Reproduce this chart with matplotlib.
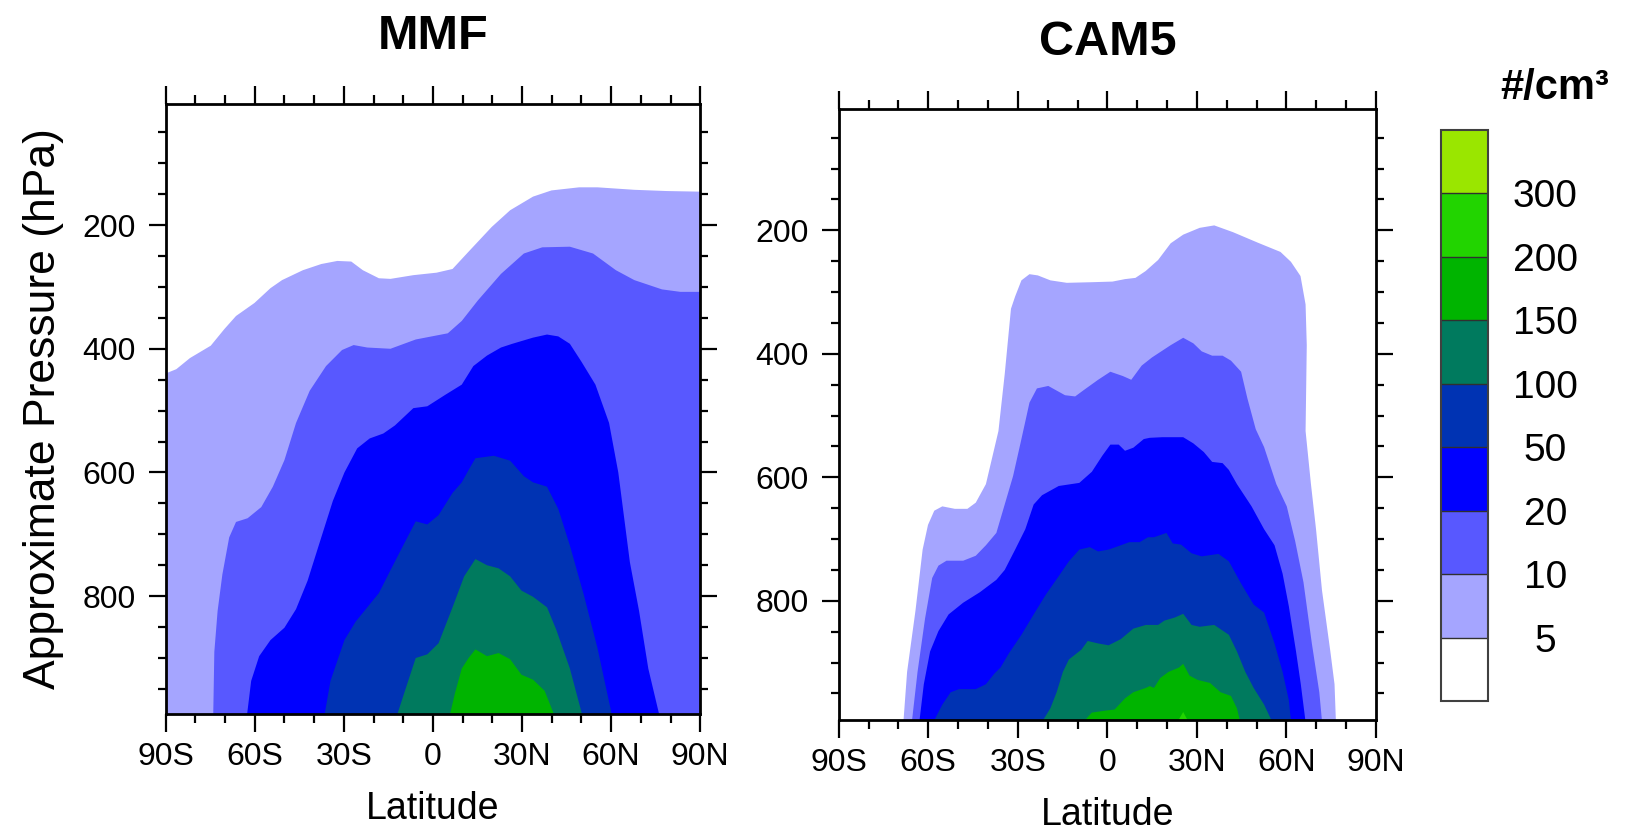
import matplotlib
matplotlib.use('Agg')
import matplotlib.pyplot as plt
import numpy as np
from matplotlib.colors import ListedColormap, BoundaryNorm
from matplotlib.cm import ScalarMappable

# colour levels (#/cm3) and fill colours (first = below 5, last = above 300)
levels = [5, 10, 20, 50, 100, 150, 200, 300]
colors = ['#ffffff', '#a5a5ff', '#5858ff', '#0000ff', '#0033b3',
          '#007a5e', '#00b400', '#22d400', '#9ae600']
lat_ticks = [-90, -60, -30, 0, 30, 60, 90]
lat_labels = ['90S', '60S', '30S', '0', '30N', '60N', '90N']
p_ticks = [200, 400, 600, 800]

# MMF: upper edge (lat, hPa) of the area above each level
mmf_5 = [(-90, 440), (-86.4, 433), (-81.8, 415), (-74.8, 395), (-70.2, 368), (-66.3, 347),
         (-60.1, 326), (-54.7, 302), (-50.8, 289), (-43.8, 273), (-37.6, 263), (-32.2, 258),
         (-27.5, 259), (-23.6, 273), (-18.2, 286), (-14.3, 287), (-6.6, 281), (1.2, 277),
         (6.6, 271), (12.0, 243), (19.8, 203), (26.0, 176), (33.7, 154), (39.9, 144),
         (49.2, 139), (55.4, 139), (67.8, 143), (78.7, 145), (90, 146)]
mmf_10 = [(-74.0, 1000), (-73.6, 890), (-72.5, 824), (-70.9, 765), (-68.6, 705), (-66.3, 680),
          (-62.4, 674), (-57.8, 656), (-53.9, 623), (-50.0, 580), (-46.1, 520), (-41.5, 468),
          (-36.0, 428), (-30.6, 402), (-26.7, 394), (-22.1, 398), (-14.3, 400), (-5.8, 385),
          (5.0, 375), (9.7, 355), (15.1, 322), (22.9, 279), (30.6, 246), (36.8, 236),
          (46.1, 235), (53.9, 246), (61.6, 273), (67.8, 289), (77.1, 304), (83.3, 308), (90, 308)]
mmf_20 = [(-62.8, 1000), (-61.2, 937), (-58.5, 897), (-54.7, 871), (-50.0, 851), (-46.1, 821),
          (-42.2, 775), (-37.6, 705), (-33.7, 646), (-29.8, 600), (-25.5, 561), (-21.3, 545),
          (-16.7, 537), (-12.8, 524), (-6.6, 496), (-1.9, 493), (4.3, 474), (9.7, 458),
          (13.6, 428), (18.2, 411), (22.9, 398), (26.7, 392), (33.7, 382), (38.4, 377),
          (42.2, 380), (46.1, 392), (50.0, 421), (54.7, 458), (59.3, 520), (62.4, 600),
          (66.3, 745), (69.4, 824), (72.5, 917), (76.6, 1000)]
mmf_50 = [(-36.8, 1000), (-34.5, 937), (-29.8, 871), (-26.0, 841), (-22.1, 818), (-18.2, 795),
          (-14.3, 758), (-9.7, 715), (-5.8, 679), (-1.9, 684), (1.9, 669), (6.6, 633),
          (9.7, 616), (12.0, 596), (14.3, 577), (20.5, 573), (26.0, 581), (30.6, 606),
          (33.7, 616), (38.4, 623), (42.2, 659), (46.1, 718), (50.8, 798), (55.4, 884), (60.6, 1000)]
mmf_100 = [(-12.6, 1000), (-9.7, 957), (-5.8, 900), (-1.9, 894), (1.9, 876), (6.6, 818),
           (10.5, 768), (14.3, 740), (18.2, 750), (22.1, 755), (26.0, 768), (29.8, 791),
           (33.7, 801), (38.4, 818), (41.5, 854), (46.1, 917), (50.7, 1000)]
mmf_150 = [(5.3, 1000), (7.4, 957), (9.7, 917), (12.0, 900), (14.3, 886), (18.2, 897),
           (22.1, 892), (26.0, 902), (29.8, 927), (33.7, 935), (37.6, 953), (41.5, 1000)]

# CAM5
cam5_5 = [(-68.4, 1000), (-67.1, 915), (-64.3, 816), (-61.9, 717), (-60.1, 677), (-58.0, 654),
          (-55.3, 647), (-51.1, 651), (-46.9, 651), (-44.1, 641), (-40.7, 611), (-36.5, 525),
          (-34.4, 433), (-32.3, 327), (-30.9, 307), (-28.8, 281), (-26.1, 271), (-23.3, 273),
          (-19.1, 281), (-13.6, 285), (-5.2, 284), (1.7, 283), (5.9, 279), (9.4, 277),
          (12.8, 266), (17.0, 248), (21.2, 221), (25.4, 207), (30.9, 196), (35.8, 192),
          (42.1, 203), (50.4, 220), (58.0, 235), (61.5, 251), (64.7, 274), (66.4, 320),
          (66.8, 386), (66.4, 525), (68.2, 611), (69.9, 684), (71.9, 783), (74.7, 882),
          (76.1, 935), (76.6, 1000)]
cam5_10 = [(-65.6, 1000), (-63.6, 915), (-61.1, 829), (-58.7, 763), (-56.6, 743), (-53.9, 735),
           (-48.3, 735), (-44.1, 727), (-40.7, 710), (-37.2, 690), (-34.4, 644), (-31.6, 598),
           (-28.8, 538), (-26.1, 479), (-23.6, 456), (-19.8, 452), (-14.2, 467), (-10.8, 469),
           (-8.0, 459), (-3.1, 442), (1.0, 429), (5.2, 436), (8.0, 442), (11.5, 419),
           (14.9, 406), (21.2, 386), (25.4, 374), (28.8, 383), (31.6, 396), (35.1, 403),
           (38.6, 403), (41.4, 411), (44.8, 429), (46.9, 472), (49.7, 522), (52.5, 551),
           (56.6, 611), (60.1, 647), (62.9, 703), (65.7, 770), (68.5, 869), (71.0, 948), (72.0, 1000)]
cam5_20 = [(-63.1, 1000), (-61.5, 935), (-59.4, 882), (-56.6, 849), (-53.2, 822), (-48.3, 803),
           (-42.7, 786), (-37.2, 766), (-34.4, 750), (-30.9, 717), (-27.5, 684), (-24.7, 644),
           (-21.9, 629), (-16.3, 614), (-9.4, 609), (-5.2, 591), (-1.7, 565), (1.0, 547),
           (3.8, 547), (5.9, 557), (8.7, 552), (12.2, 538), (14.2, 536), (18.4, 535),
           (25.4, 535), (28.8, 545), (32.3, 559), (35.1, 575), (38.6, 577), (40.7, 588),
           (43.4, 611), (48.3, 647), (52.5, 684), (56.0, 710), (58.7, 756), (60.8, 809),
           (63.2, 882), (64.8, 935), (66.5, 1000)]
cam5_50 = [(-58.7, 1000), (-55.3, 968), (-52.5, 948), (-49.7, 943), (-44.1, 943), (-40.7, 935),
           (-37.9, 918), (-35.8, 908), (-33.0, 885), (-28.8, 855), (-24.7, 822), (-20.5, 789),
           (-16.3, 760), (-12.9, 736), (-9.4, 717), (-5.9, 713), (-3.1, 720), (0.4, 717),
           (4.5, 710), (7.3, 705), (10.8, 705), (13.6, 697), (15.6, 697), (19.8, 690),
           (21.9, 707), (24.7, 709), (28.2, 723), (31.6, 728), (37.2, 724), (40.7, 736),
           (44.8, 772), (49.0, 806), (52.5, 819), (56.0, 869), (58.7, 915), (60.8, 961), (61.6, 1000)]
cam5_100 = [(-22.4, 1000), (-19.1, 974), (-17.0, 948), (-14.9, 915), (-12.9, 895), (-8.7, 879),
            (-6.6, 865), (-3.1, 869), (0.4, 872), (4.5, 862), (8.7, 845), (12.9, 839),
            (17.0, 839), (19.1, 832), (22.6, 827), (25.4, 821), (28.2, 839), (30.9, 842),
            (35.8, 839), (40.7, 855), (43.4, 882), (46.2, 915), (49.0, 941), (52.5, 968), (55.6, 1000)]
cam5_150 = [(-8.8, 1000), (-5.2, 981), (-1.0, 978), (2.4, 976), (5.9, 958), (8.7, 948),
            (12.9, 941), (14.2, 938), (15.6, 941), (17.7, 925), (20.5, 915), (24.0, 908),
            (25.4, 902), (27.5, 921), (30.2, 928), (34.4, 933), (37.9, 948), (41.4, 954),
            (43.4, 974), (44.7, 1000)]
cam5_200 = [(23.0, 1000), (25.4, 980), (27.6, 1000)]

mmf = [mmf_5, mmf_10, mmf_20, mmf_50, mmf_100, mmf_150]
cam5 = [cam5_5, cam5_10, cam5_20, cam5_50, cam5_100, cam5_150, cam5_200]

font = 'Liberation Sans'

fig = plt.figure(figsize=(16.35, 8.35), dpi=100)
ax1 = fig.add_axes([0.1013, 0.1449, 0.3270, 0.7309])
ax2 = fig.add_axes([0.5130, 0.1377, 0.3286, 0.7314])
cax = fig.add_axes([0.8812, 0.1601, 0.0291, 0.6842])


def draw_panel(ax, contours, title, ylim):
    for i, pts in enumerate(contours):
        lat, p = np.array(pts).T
        ax.fill(np.r_[lat, lat[-1], lat[0]], np.r_[p, 1100, 1100],
                color=colors[i + 1], lw=0)
    ax.set_xlim(-90, 90)
    ax.set_ylim(*ylim)
    ax.set_xticks(lat_ticks)
    ax.set_xticklabels(lat_labels, family=font, fontsize=23)
    ax.set_xticks(np.arange(-80, 90, 10), minor=True)
    ax.set_yticks(p_ticks)
    ax.set_yticklabels([str(v) for v in p_ticks], family=font, fontsize=23)
    ax.set_yticks(np.arange(50, 1000, 50), minor=True)
    ax.tick_params(which='both', direction='out', top=True, right=True,
                   labeltop=False, labelright=False, width=1.6, color='black')
    ax.tick_params(axis='x', which='major', length=13, pad=7)
    ax.tick_params(axis='x', which='minor', length=6.5)
    ax.tick_params(axis='y', which='major', length=12.5, pad=9)
    ax.tick_params(axis='y', which='minor', length=5.5)
    for s in ax.spines.values():
        s.set_linewidth(2.0)
    ax.set_xlabel('Latitude', family=font, fontsize=27, labelpad=14)
    ax.text(0.5, 1.11, title, transform=ax.transAxes, ha='center', va='center',
            fontsize=35, fontweight='bold', family=font)


draw_panel(ax1, mmf, 'MMF', (990.5, 3.8))
draw_panel(ax2, cam5, 'CAM5', (993, 4))
ax1.set_ylabel('Approximate Pressure (hPa)', family=font, fontsize=32, va='center')
ax1.yaxis.set_label_coords(-0.228, 0.5)

# colour bar with equal-sized boxes
cmap = ListedColormap(colors)
norm = BoundaryNorm([0] + levels + [400], cmap.N)
cb = fig.colorbar(ScalarMappable(norm=norm, cmap=cmap), cax=cax, spacing='uniform',
                  ticks=levels, drawedges=True)
cb.outline.set_edgecolor('#404040')
cb.outline.set_linewidth(1.5)
cb.dividers.set_color('#303030')
cb.dividers.set_linewidth(1.0)
cax.minorticks_off()
cax.tick_params(which='both', length=0, pad=41)
cax.set_yticklabels([str(v) for v in levels], family=font, fontsize=28, ha='center')
cax.text(2.4, 1.074, '#/cm\u00b3', transform=cax.transAxes, ha='center', va='center',
         fontsize=30, fontweight='bold', family=font)

fig.savefig('out.png', dpi=100)
